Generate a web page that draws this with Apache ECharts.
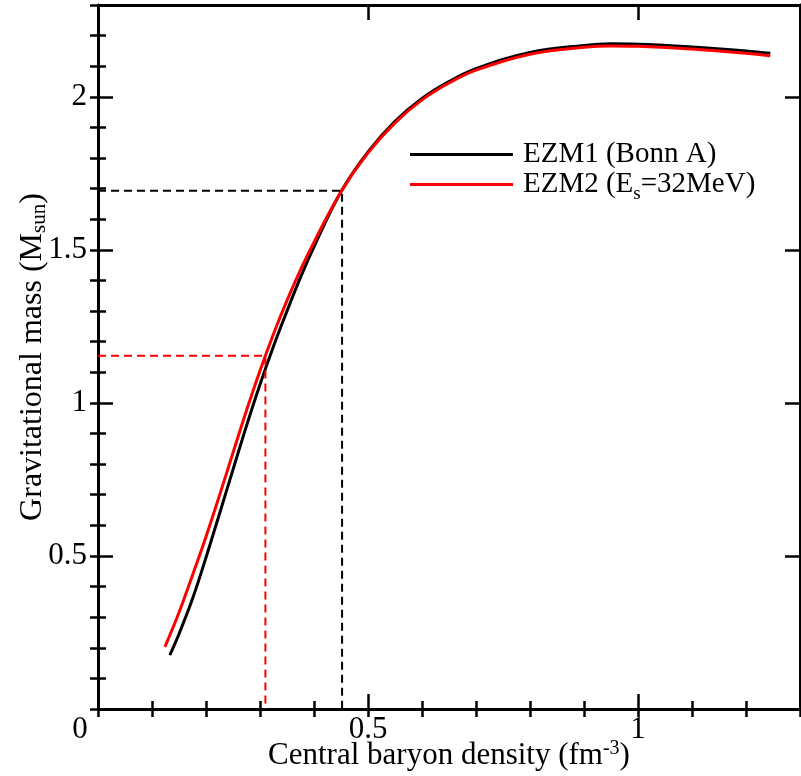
<!DOCTYPE html>
<html>
<head>
<meta charset="utf-8">
<script src="https://cdn.jsdelivr.net/npm/echarts@6/dist/echarts.min.js"></script>
<style>
  html, body { margin: 0; padding: 0; background: #fff; }
  #chart { width: 801px; height: 776px; }
</style>
</head>
<body>
<div id="chart"></div>
<script>
// EZM1 (Bonn A): [central baryon density, gravitational mass]
var ezm1 = [
  [0.133, 0.176], [0.15, 0.245], [0.175, 0.36], [0.2, 0.495], [0.225, 0.638],
  [0.25, 0.782], [0.275, 0.925], [0.3, 1.06], [0.325, 1.185], [0.35, 1.30],
  [0.375, 1.41], [0.4, 1.51], [0.45, 1.69], [0.5, 1.82], [0.55, 1.92],
  [0.6, 1.995], [0.65, 2.05], [0.7, 2.092], [0.8, 2.145], [0.9, 2.168],
  [0.95, 2.173], [1.0, 2.172], [1.1, 2.163], [1.2, 2.15], [1.245, 2.142]
];
// EZM2 (Es = 32 MeV)
var ezm2 = [
  [0.124, 0.203], [0.15, 0.315], [0.175, 0.437], [0.2, 0.563], [0.225, 0.698],
  [0.25, 0.837], [0.275, 0.975], [0.3, 1.105], [0.325, 1.225], [0.35, 1.335],
  [0.375, 1.435], [0.4, 1.525], [0.45, 1.69], [0.5, 1.817], [0.55, 1.915],
  [0.6, 1.99], [0.65, 2.045], [0.7, 2.087], [0.8, 2.139], [0.9, 2.162],
  [0.95, 2.166], [1.0, 2.165], [1.1, 2.156], [1.2, 2.142], [1.245, 2.134]
];
// guide lines (dashed)
var guide1 = [[0, 1.693], [0.452, 1.693], [0.452, 0]];
var guide2 = [[0, 1.154], [0.31, 1.154], [0.31, 0]];

var names = ['EZM1 (Bonn A)', 'EZM2 (Es=32MeV)'];
var xLabels = [0, 0.5, 1];
var yLabels = [0.5, 1, 1.5, 2];

var font = 'Liberation Serif';
var axisLine = { show: true, onZero: false, lineStyle: { color: '#000', width: 3 } };

function majorX(pos, showLabel) {
  return {
    type: 'value', position: pos, min: 0, max: 1.3, interval: 0.5,
    axisLine: axisLine,
    axisTick: { show: true, inside: true, length: 15, lineStyle: { color: '#000', width: 2.5 } },
    splitLine: { show: false },
    axisLabel: {
      show: showLabel, margin: 5, color: '#000', fontFamily: font, fontSize: 31,
      formatter: function (v) {
        if (xLabels.indexOf(v) < 0) return '';
        return v === 0 ? '{z|0}' : String(v);
      },
      rich: { z: { fontFamily: font, fontSize: 31, color: '#000', padding: [0, 36, 0, 0] } }
    }
  };
}
function minorX(pos) {
  return {
    type: 'value', position: pos, min: 0, max: 1.3, interval: 0.1,
    axisLine: { show: false },
    axisTick: { show: true, inside: true, length: 8, lineStyle: { color: '#000', width: 2.5 } },
    splitLine: { show: false }, axisLabel: { show: false }
  };
}
function majorY(pos, showLabel) {
  return {
    type: 'value', position: pos, min: 0, max: 2.3, interval: 0.5,
    axisLine: axisLine,
    axisTick: { show: true, inside: true, length: 15, lineStyle: { color: '#000', width: 2.5 } },
    splitLine: { show: false },
    axisLabel: {
      show: showLabel, margin: 11, color: '#000', fontFamily: font, fontSize: 31,
      formatter: function (v) { return yLabels.indexOf(v) < 0 ? '' : String(v); }
    }
  };
}
function minorY(pos) {
  return {
    type: 'value', position: pos, min: 0, max: 2.3, interval: 0.1,
    axisLine: { show: false },
    axisTick: { show: true, inside: true, length: 8, lineStyle: { color: '#000', width: 2.5 } },
    splitLine: { show: false }, axisLabel: { show: false }
  };
}

var xMain = majorX('bottom', true);
xMain.name = 'Central baryon density (fm{sup|-3})';
xMain.nameLocation = 'middle';
xMain.nameGap = 30;
xMain.nameMoveOverlap = false;
xMain.nameTextStyle = {
  fontFamily: font, fontSize: 31, color: '#000',
  rich: { sup: { fontFamily: font, fontSize: 20, color: '#000', padding: [0, 0, 14, 0] } }
};
var yMain = majorY('left', true);
yMain.name = 'Gravitational mass (M{sub|sun})';
yMain.nameLocation = 'middle';
yMain.nameGap = 48;
yMain.nameMoveOverlap = false;
yMain.nameTextStyle = {
  fontFamily: font, fontSize: 32, color: '#000',
  rich: { sub: { fontFamily: font, fontSize: 21, color: '#000', padding: [13, 0, 0, 0] } }
};

var chart = echarts.init(document.getElementById('chart'));
chart.setOption({
  animation: false,
  backgroundColor: '#fff',
  grid: { left: 98, right: 1, top: 5, bottom: 67, outerBoundsMode: 'none', containLabel: false },
  legend: {
    data: names,
    orient: 'vertical',
    left: 405, top: 135,
    itemWidth: 103, itemHeight: 3, itemGap: 1,
    icon: 'rect',
    textStyle: {
      fontFamily: font, fontSize: 29, color: '#000', padding: [0, 0, 0, 5],
      rich: { s: { fontFamily: font, fontSize: 19, color: '#000', padding: [20, 0, 0, 0] } }
    },
    formatter: function (n) { return n === names[1] ? 'EZM2 (E{s|s}=32MeV)' : n; }
  },
  xAxis: [xMain, minorX('bottom'), majorX('top', false), minorX('top')],
  yAxis: [yMain, minorY('left'), majorY('right', false), minorY('right')],
  series: [
    { name: names[0], type: 'line', data: ezm1, smooth: 0.4, showSymbol: false,
      lineStyle: { color: '#000', width: 3 }, itemStyle: { color: '#000' } },
    { name: names[1], type: 'line', data: ezm2, smooth: 0.4, showSymbol: false,
      lineStyle: { color: '#ff0000', width: 3 }, itemStyle: { color: '#ff0000' } },
    { name: 'g1', type: 'line', data: guide1, showSymbol: false, silent: true,
      lineStyle: { color: '#000', width: 2, type: [8, 5] } },
    { name: 'g2', type: 'line', data: guide2, showSymbol: false, silent: true,
      lineStyle: { color: '#ff0000', width: 2, type: [8, 5] } }
  ]
});
</script>
</body>
</html>
